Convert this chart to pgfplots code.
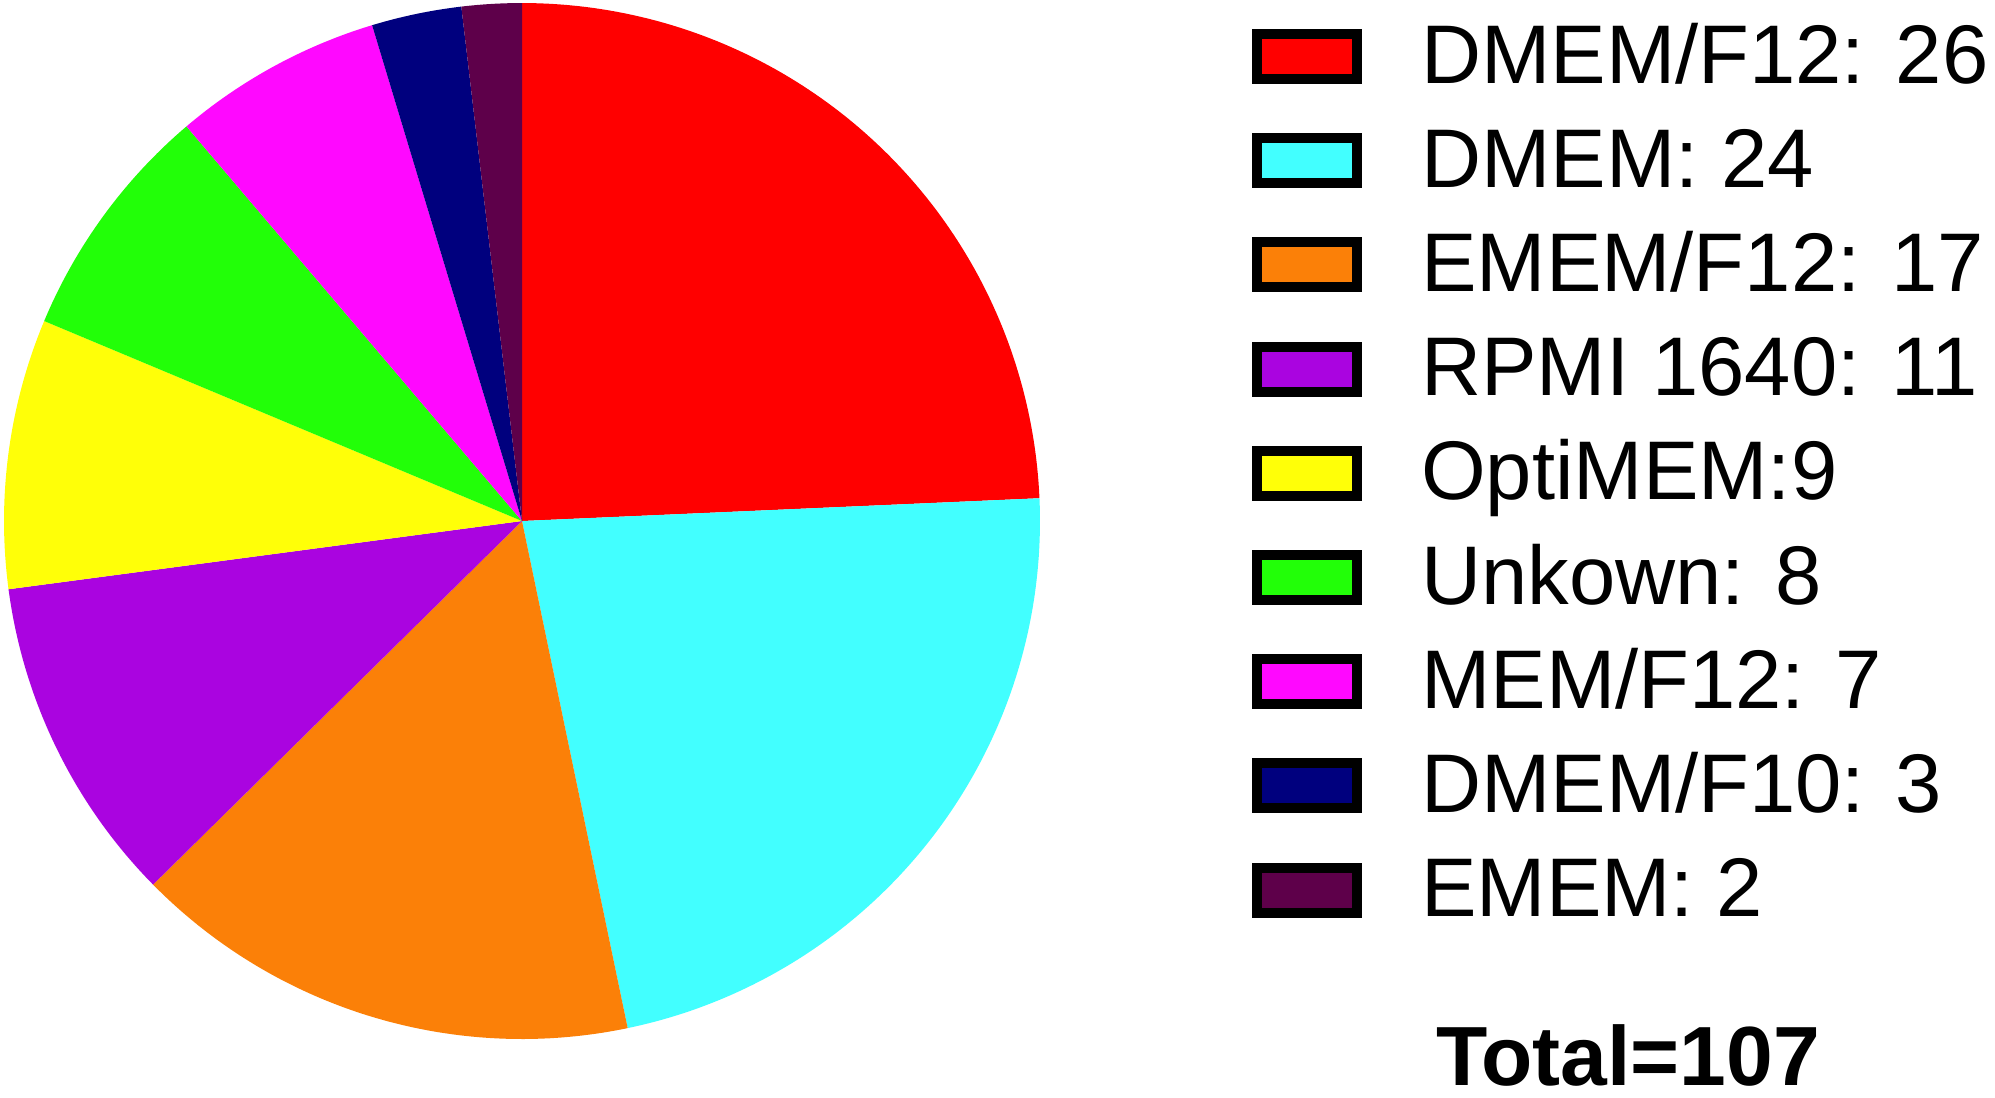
\documentclass[border=0pt]{standalone}
\usepackage{pgfplots}
\pgfplotsset{compat=1.18}
\usepackage{fontspec}
\setmainfont{Liberation Sans}
\definecolor{cA}{HTML}{FF0000}
\definecolor{cB}{HTML}{42FFFF}
\definecolor{cC}{HTML}{FB8008}
\definecolor{cD}{HTML}{AA04E0}
\definecolor{cE}{HTML}{FFFF08}
\definecolor{cF}{HTML}{22FF08}
\definecolor{cG}{HTML}{FF08FF}
\definecolor{cH}{HTML}{00007E}
\definecolor{cI}{HTML}{5E004A}
% counts per category
\def\vA{26}\def\vB{24}\def\vC{17}\def\vD{11}\def\vE{9}\def\vF{8}\def\vG{7}\def\vH{3}\def\vI{2}
\pgfmathsetmacro\tot{\vA+\vB+\vC+\vD+\vE+\vF+\vG+\vH+\vI}
\pgfmathsetmacro\aO{90}
\pgfmathsetmacro\aA{\aO-\vA*360/\tot}
\pgfmathsetmacro\aB{\aA-\vB*360/\tot}
\pgfmathsetmacro\aC{\aB-\vC*360/\tot}
\pgfmathsetmacro\aD{\aC-\vD*360/\tot}
\pgfmathsetmacro\aE{\aD-\vE*360/\tot}
\pgfmathsetmacro\aF{\aE-\vF*360/\tot}
\pgfmathsetmacro\aG{\aF-\vG*360/\tot}
\pgfmathsetmacro\aH{\aG-\vH*360/\tot}
\pgfmathsetmacro\aI{\aH-\vI*360/\tot}
\begin{document}
\begin{tikzpicture}
\begin{axis}[
  width=498.75pt, height=274.25pt, scale only axis,
  xmin=0, xmax=1995, ymin=0, ymax=1097, y dir=reverse,
  hide axis, clip=false,
  legend cell align=left,
  legend image code/.code={\draw[#1,draw=black,line width=2.5pt] (1.25pt,-5.0pt) rectangle (26.25pt,6.25pt);},
  legend style={draw=none, fill=none, at={(axis cs:1252,19)}, anchor=north west,
    inner sep=0pt, outer sep=0pt, row sep=6.05pt, column sep=0pt,
    nodes={inner sep=0pt, outer sep=0pt, text height=16pt, text depth=4pt, font=\fontsize{20.8pt}{21pt}\selectfont},
    /tikz/every odd column/.style={column sep=14.8pt}},
]
\addplot[fill=cA, draw=none, domain=\aA:\aO, samples=100] ({522+518*cos(x)},{521-518*sin(x)}) -- (axis cs:522,521) -- cycle;
\addlegendentry{DMEM/F12: 26}
\addplot[fill=cB, draw=none, domain=\aB:\aA, samples=100] ({522+518*cos(x)},{521-518*sin(x)}) -- (axis cs:522,521) -- cycle;
\addlegendentry{DMEM: 24}
\addplot[fill=cC, draw=none, domain=\aC:\aB, samples=80] ({522+518*cos(x)},{521-518*sin(x)}) -- (axis cs:522,521) -- cycle;
\addlegendentry{EMEM/F12: 17}
\addplot[fill=cD, draw=none, domain=\aD:\aC, samples=60] ({522+518*cos(x)},{521-518*sin(x)}) -- (axis cs:522,521) -- cycle;
\addlegendentry{RPMI 1640: 11}
\addplot[fill=cE, draw=none, domain=\aE:\aD, samples=50] ({522+518*cos(x)},{521-518*sin(x)}) -- (axis cs:522,521) -- cycle;
\addlegendentry{OptiMEM:9}
\addplot[fill=cF, draw=none, domain=\aF:\aE, samples=50] ({522+518*cos(x)},{521-518*sin(x)}) -- (axis cs:522,521) -- cycle;
\addlegendentry{Unkown: 8}
\addplot[fill=cG, draw=none, domain=\aG:\aF, samples=40] ({522+518*cos(x)},{521-518*sin(x)}) -- (axis cs:522,521) -- cycle;
\addlegendentry{MEM/F12: 7}
\addplot[fill=cH, draw=none, domain=\aH:\aG, samples=20] ({522+518*cos(x)},{521-518*sin(x)}) -- (axis cs:522,521) -- cycle;
\addlegendentry{DMEM/F10: 3}
\addplot[fill=cI, draw=none, domain=\aI:\aH, samples=20] ({522+518*cos(x)},{521-518*sin(x)}) -- (axis cs:522,521) -- cycle;
\addlegendentry{EMEM: 2}
\node[anchor=base, inner sep=0pt, font=\fontsize{21pt}{21pt}\selectfont\bfseries] at (axis cs:1628,1085) {Total=107};
\path (axis cs:0,0) rectangle (axis cs:1995,1097);
\end{axis}
\end{tikzpicture}
\end{document}
